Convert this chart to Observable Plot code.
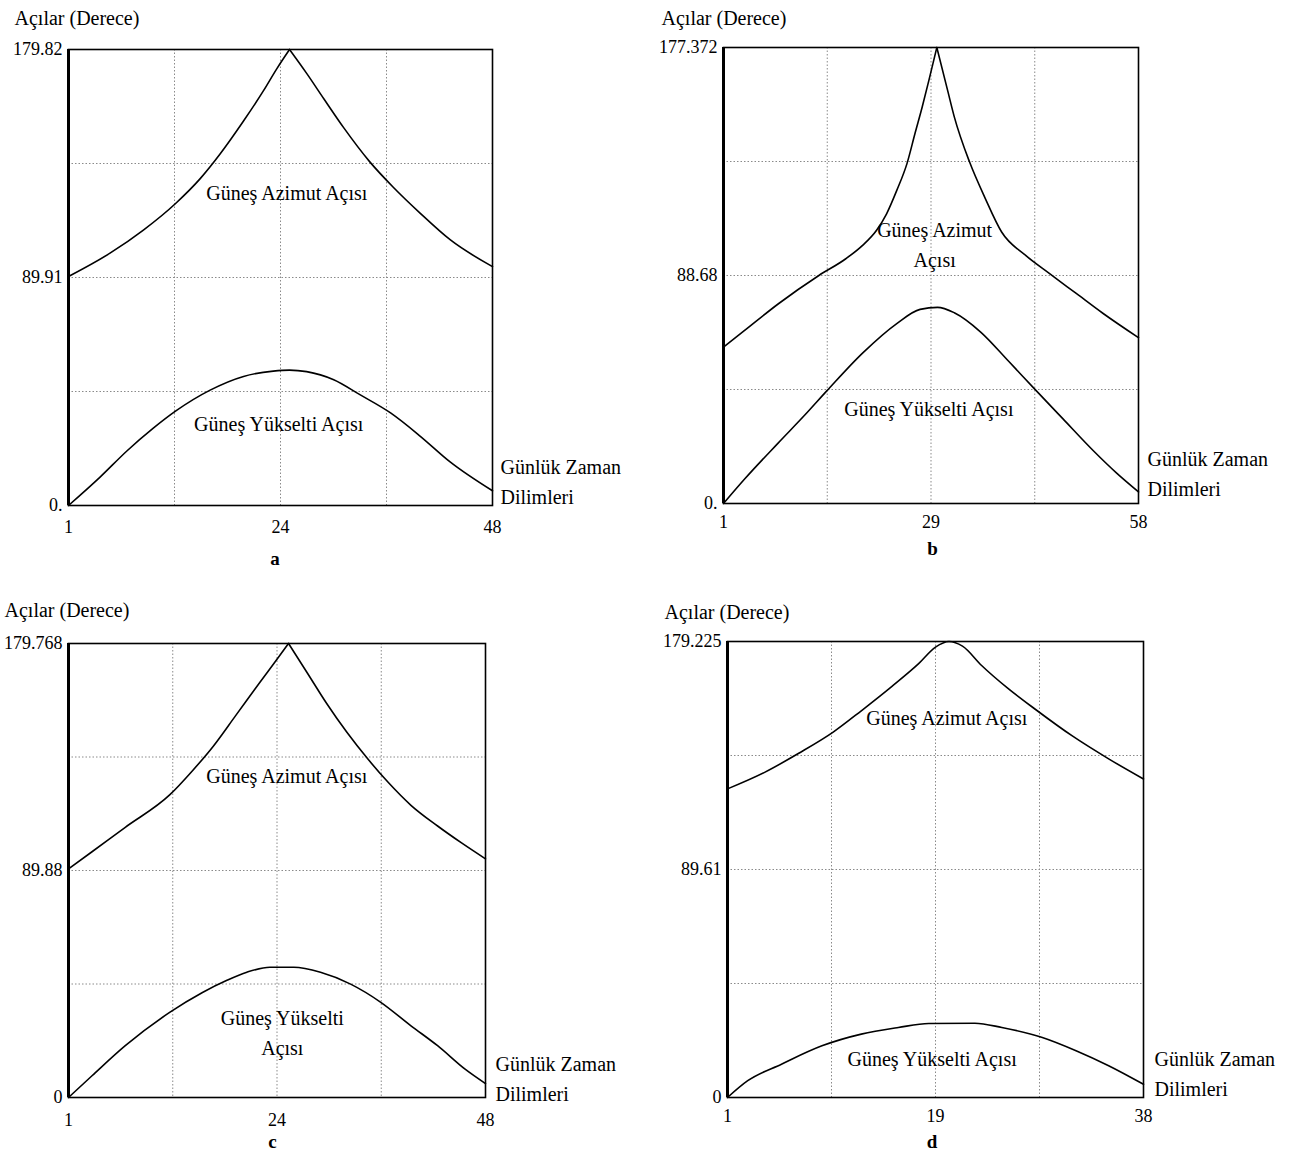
<!DOCTYPE html>
<html><head><meta charset="utf-8">
<script src="https://cdn.jsdelivr.net/npm/d3@7"></script>
<script src="https://cdn.jsdelivr.net/npm/@observablehq/plot@0.6"></script>
<style>
body{margin:0;background:#fff;}
#root{position:relative;width:1290px;height:1151px;overflow:hidden;background:#fff;}
#root svg{position:absolute;}
</style></head><body><div id="root"></div>
<script>
// ---------- DATA ----------
// Panel a
const aXMax = 48, aYMax = 179.82;
const aXTickLabels = ["1", "24", "48"];
const aYTickLabels = ["0.", "89.91", "179.82"];
const aAzimutT = [1, 5.6, 9.3, 12.9, 15.6, 17.8, 20.4, 22.6, 24.1, 25.5, 27.4, 29.3, 31.5, 34.4, 37, 40, 43.3, 48];
const aAzimutV = [90.3, 99.5, 108.6, 119.2, 128.9, 138.6, 151.6, 163.5, 172.3, 179.82, 170.4, 160.4, 149, 135.5, 125.5, 115.2, 104.8, 94.2];
const aYukseltiT = [1, 4.5, 7.5, 10.4, 12.9, 16.7, 20.4, 23.7, 25.5, 27.4, 30.4, 33.3, 36.7, 40, 43.3, 48];
const aYukseltiV = [0, 11.2, 21.6, 30.5, 37.3, 45.5, 50.9, 53.0, 53.4, 52.8, 49.6, 43.7, 36.5, 27.3, 17.2, 5.8];

// Panel b
const bXMax = 58, bYMax = 177.372;
const bXTickLabels = ["1", "29", "58"];
const bYTickLabels = ["0.", "88.68", "177.372"];
const bAzimutT = [1, 3.9, 8.5, 14.1, 17.8, 20.1, 22, 23.4, 24.8, 26.2, 27.3, 28.3, 29.2, 30.3, 31.8, 32.7, 34.8, 36.9, 39.2, 42.5, 45.7, 49.4, 53.1, 58];
const bAzimutV = [60.8, 67.3, 77.6, 88.7, 95.2, 100.4, 106.2, 112.7, 121.8, 132.2, 143.9, 154.3, 164.5, 177.372, 160.5, 150.4, 132.8, 119, 105.6, 96.5, 89.6, 81.8, 74, 64.5];
const bYukseltiT = [1, 3.9, 8.5, 12.2, 15.25, 20.1, 24.8, 28, 30.4, 32.7, 36.4, 40.1, 43.75, 47.6, 51.8, 55, 58];
const bYukseltiV = [0, 9.5, 23.5, 34.5, 44, 58.5, 70, 75.5, 76.3, 74.2, 66.5, 55.5, 44.5, 33, 20.5, 11.8, 4.5];

// Panel c
const cXMax = 48, cYMax = 179.768;
const cXTickLabels = ["1", "24", "48"];
const cYTickLabels = ["0", "89.88", "179.768"];
const cAzimutT = [1, 3.65, 7.4, 12.4, 15, 17.3, 19.9, 22.6, 24.5, 25.8, 27.9, 30.1, 32.4, 34.7, 37, 39.6, 42.6, 45.3, 48];
const cAzimutV = [90.5, 97.3, 107, 119.8, 129.5, 139, 151.5, 164.5, 173.5, 179.768, 168.2, 156, 144.5, 134.2, 124.9, 115.7, 107.5, 100.8, 94.5];
const cYukseltiT = [1, 3.65, 7.4, 12.4, 16.1, 18.8, 21.1, 23.7, 26.4, 29.4, 32.8, 36.2, 39.6, 42.6, 45.7, 48];
const cYukseltiV = [0, 8.6, 20.5, 33.7, 41.6, 46.3, 49.6, 51.6, 51.6, 49.6, 44.9, 37.7, 28.4, 20.5, 11.2, 5.5];

// Panel d
const dXMax = 38, dYMax = 179.225;
const dXTickLabels = ["1", "19", "38"];
const dYTickLabels = ["0", "89.61", "179.225"];
const dAzimutT = [1, 4.3, 7.3, 10.4, 12.9, 15.6, 18, 19.5, 20.7, 21.9, 23.6, 26, 28.4, 31.7, 34.9, 38];
const dAzimutV = [121.3, 127.8, 135.2, 143.6, 152, 161.5, 170.5, 177, 179.225, 177.4, 169.8, 160.6, 152.5, 142, 133.1, 125.2];
const dYukseltiT = [1, 2.8, 5.8, 9.4, 12.9, 16.2, 18.9, 23, 25.4, 29, 32, 34.9, 38];
const dYukseltiV = [0, 6.6, 13.1, 20.3, 24.9, 27.5, 29.1, 29.2, 27.5, 23.6, 18.4, 12.5, 5.2];

const yTitle = "Açılar (Derece)";
const xTitle = "Günlük Zaman\nDilimleri";

// ---------- LAYOUT ----------
const FONT = "'Liberation Serif','Times New Roman',Times,serif";
const panels = [
  {letter: "a", xMax: aXMax, yMax: aYMax, xl: aXTickLabels, yl: aYTickLabels,
   azT: aAzimutT, azV: aAzimutV, elT: aYukseltiT, elV: aYukseltiV, cusp: true,
   ox: 0, oy: 0, w: 645, h: 575, mL: 68, mT: 49, mR: 153, mB: 70, xPad: 15,
   title: {dx: -54, dy: -25}, xt: {dx: 8, dy: -2}, let: {x: 23.9, dy: 59},
   azLab: {x: 25.2, y: 124.2, text: "Güneş Azimut Açısı"},
   elLab: {x: 24.3, y: 33.1, text: "Güneş Yükselti Açısı"}},
  {letter: "b", xMax: bXMax, yMax: bYMax, xl: bXTickLabels, yl: bYTickLabels,
   azT: bAzimutT, azV: bAzimutV, elT: bYukseltiT, elV: bYukseltiV, cusp: true,
   ox: 645, oy: 0, w: 645, h: 575, mL: 78, mT: 47, mR: 152, mB: 72, xPad: 12,
   title: {dx: -62, dy: -23}, xt: {dx: 9, dy: -8}, let: {x: 29.7, dy: 51},
   azLab: {x: 30, y: 101.5, text: "Güneş Azimut\nAçısı"},
   elLab: {x: 29.2, y: 37.7, text: "Güneş Yükselti Açısı"}},
  {letter: "c", xMax: cXMax, yMax: cYMax, xl: cXTickLabels, yl: cYTickLabels,
   azT: cAzimutT, azV: cAzimutV, elT: cYukseltiT, elV: cYukseltiV, cusp: true,
   ox: 0, oy: 585, w: 645, h: 566, mL: 68, mT: 58, mR: 160, mB: 54, xPad: 16,
   title: {dx: -64, dy: -27}, xt: {dx: 10, dy: 3}, let: {x: 24, dy: 50},
   azLab: {x: 25.6, y: 128.3, text: "Güneş Azimut Açısı"},
   elLab: {x: 25.1, y: 26.7, text: "Güneş Yükselti\nAçısı"}},
  {letter: "d", xMax: dXMax, yMax: dYMax, xl: dXTickLabels, yl: dYTickLabels,
   azT: dAzimutT, azV: dAzimutV, elT: dYukseltiT, elV: dYukseltiV, cusp: false,
   ox: 645, oy: 585, w: 645, h: 566, mL: 82, mT: 56, mR: 147, mB: 54, xPad: 12,
   title: {dx: -63, dy: -23}, xt: {dx: 11, dy: -2}, let: {x: 19.2, dy: 50},
   azLab: {x: 20.5, y: 150.1, text: "Güneş Azimut Açısı"},
   elLab: {x: 19.2, y: 16.1, text: "Güneş Yükselti Açısı"}}
];

const root = document.getElementById("root");

for (const p of panels) {
  // azimuth: split at the peak so the cusp stays sharp
  const iMax = p.azV.indexOf(d3.max(p.azV));
  const az = [];
  p.azT.forEach((t, i) => {
    if (!p.cusp) { az.push({t, v: p.azV[i], side: "L"}); return; }
    if (i <= iMax) az.push({t, v: p.azV[i], side: "L"});
    if (i >= iMax) az.push({t, v: p.azV[i], side: "R"});
  });
  const el = p.elT.map((t, i) => ({t, v: p.elV[i]}));
  const xMid = (1 + p.xMax) / 2;
  const xGrid = [1, 2, 3].map(k => 1 + (p.xMax - 1) * k / 4);
  const yGrid = [1, 2, 3].map(k => p.yMax * k / 4);
  const xTicks = [1, xMid, p.xMax];
  const yTicks = [0, p.yMax / 2, p.yMax];
  const xMap = new Map(xTicks.map((d, i) => [d, p.xl[i]]));
  const yMap = new Map(yTicks.map((d, i) => [d, p.yl[i]]));

  const svg = Plot.plot({
    width: p.w, height: p.h,
    marginLeft: p.mL, marginTop: p.mT, marginRight: p.mR, marginBottom: p.mB,
    style: {fontFamily: FONT, fontSize: "18px", color: "black", background: "transparent", overflow: "visible"},
    x: {domain: [1, p.xMax]},
    y: {domain: [0, p.yMax]},
    marks: [
      Plot.gridX(xGrid, {stroke: "#8a8a8a", strokeOpacity: 1, strokeWidth: 1, strokeDasharray: "1.5,2"}),
      Plot.gridY(yGrid, {stroke: "#8a8a8a", strokeOpacity: 1, strokeWidth: 1, strokeDasharray: "1.5,2"}),
      Plot.axisY(yTicks, {tickSize: 0, tickPadding: 6, tickFormat: d => yMap.get(d), label: null, fontSize: 18}),
      Plot.axisX(xTicks, {tickSize: 0, tickPadding: p.xPad, tickFormat: d => xMap.get(d), label: null, fontSize: 18}),
      Plot.frame({stroke: "black", strokeWidth: 1.6}),
      Plot.ruleX([1], {stroke: "black", strokeWidth: 3}),
      Plot.line(az, {x: "t", y: "v", z: "side", stroke: "black", strokeWidth: 1.6, curve: "monotone-x"}),
      Plot.line(el, {x: "t", y: "v", stroke: "black", strokeWidth: 1.6, curve: "monotone-x"}),
      Plot.text([p.azLab], {x: "x", y: "y", text: "text", fontSize: 20, lineHeight: 1.5, fill: "black"}),
      Plot.text([p.elLab], {x: "x", y: "y", text: "text", fontSize: 20, lineHeight: 1.5, fill: "black"}),
      Plot.text([yTitle], {frameAnchor: "top-left", text: d => d, textAnchor: "start", lineAnchor: "bottom",
        dx: p.title.dx, dy: p.title.dy, fontSize: 20, fill: "black"}),
      Plot.text([xTitle], {frameAnchor: "bottom-right", text: d => d, textAnchor: "start", lineAnchor: "bottom",
        lineHeight: 1.5, dx: p.xt.dx, dy: p.xt.dy, fontSize: 20, fill: "black"}),
      Plot.text([p.letter], {x: p.let.x, frameAnchor: "bottom", text: d => d, lineAnchor: "bottom",
        dy: p.let.dy, fontSize: 19, fontWeight: "bold", fill: "black"})
    ]
  });
  svg.style.left = p.ox + "px";
  svg.style.top = p.oy + "px";
  root.appendChild(svg);
}
</script></body></html>
